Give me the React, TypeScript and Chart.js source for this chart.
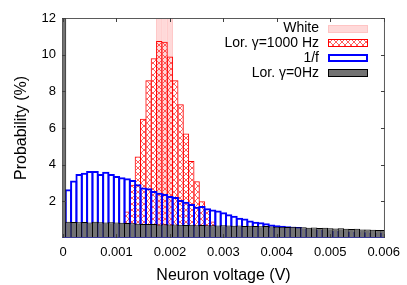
import React, { useEffect, useRef } from 'react';
import { Chart, registerables } from 'chart.js';

Chart.register(...registerables);

// ---- data (probability in %, bins of 0.0001 V centred on the bin value) ----
const binWidth = 0.0001;
const binCenters: number[] = Array.from({ length: 61 }, (_, i) => Number((i * binWidth).toFixed(4)));

const whiteBins = [0.0018, 0.0019, 0.002];
const whiteProb = [28, 40, 32];

const redBins = [0.0011, 0.0012, 0.0013, 0.0014, 0.0015, 0.0016, 0.0017, 0.0018, 0.0019, 0.002,
  0.0021, 0.0022, 0.0023, 0.0024, 0.0025, 0.0026, 0.0027, 0.0028, 0.0029];
const redProb = [0.4, 1.45, 2.9, 4.45, 6.5, 8.6, 9.8, 10.75, 10.7, 9.9,
  8.6, 7.3, 5.7, 4.2, 3.1, 2.0, 1.6, 0.9, 0.4];

// bins 1..60
const blueProb = [2.66, 3.13, 3.49, 3.56, 3.65, 3.65, 3.49, 3.62, 3.49, 3.38,
  3.31, 3.26, 3.16, 2.93, 2.76, 2.72, 2.56, 2.47, 2.40, 2.29,
  2.24, 2.07, 1.98, 1.85, 1.71, 1.75, 1.62, 1.55, 1.50, 1.40,
  1.29, 1.22, 1.11, 1.07, 0.95, 0.89, 0.86, 0.80, 0.74, 0.70,
  0.67, 0.64, 0.62, 0.60, 0.50, 0.48, 0.46, 0.44, 0.42, 0.40,
  0.38, 0.37, 0.35, 0.34, 0.33, 0.32, 0.30, 0.29, 0.28, 0.27];

// bins 0..60
const grayProb = [14,
  0.88, 0.87, 0.86, 0.87, 0.85, 0.88, 0.86, 0.85, 0.86, 0.84,
  0.83, 0.82, 0.80, 0.78, 0.77, 0.76, 0.76, 0.74, 0.75, 0.73,
  0.74, 0.72, 0.71, 0.72, 0.70, 0.71, 0.69, 0.70, 0.68, 0.69,
  0.68, 0.67, 0.68, 0.66, 0.67, 0.65, 0.64, 0.65, 0.63, 0.62,
  0.62, 0.60, 0.61, 0.59, 0.58, 0.56, 0.57, 0.55, 0.56, 0.53,
  0.52, 0.53, 0.50, 0.49, 0.50, 0.47, 0.46, 0.45, 0.44, 0.43];

const xTicks = [0, 0.001, 0.002, 0.003, 0.004, 0.005, 0.006];
const yTicks = [2, 4, 6, 8, 10, 12];

const legendLabels = ['White', 'Lor. \u03b3=1000 Hz', '1/f', 'Lor. \u03b3=0Hz'];

const FONT = "'Liberation Sans', Arial, Helvetica, sans-serif";

function makeHatch(ctx: CanvasRenderingContext2D): CanvasPattern | string {
  const c = document.createElement('canvas');
  c.width = 6;
  c.height = 6;
  const g = c.getContext('2d');
  if (!g) return 'rgba(255,0,0,0.3)';
  g.strokeStyle = 'rgba(255,40,40,0.75)';
  g.lineWidth = 1;
  g.beginPath();
  g.moveTo(0, 0); g.lineTo(6, 6);
  g.moveTo(6, 0); g.lineTo(0, 6);
  g.stroke();
  return ctx.createPattern(c, 'repeat') || 'rgba(255,0,0,0.3)';
}

export default function App() {
  const ref = useRef<HTMLCanvasElement>(null);

  useEffect(() => {
    document.body.style.margin = '0';
    const canvas = ref.current;
    if (!canvas) return;
    const ctx = canvas.getContext('2d')!;
    const hatch = makeHatch(ctx);

    const pxPerBin = 5.327;
    const pct = (b: number) => (pxPerBin + b) / pxPerBin;

    const framePlugin = {
      id: 'frame',
      afterDatasetsDraw(chart: any) {
        const c = chart.ctx as CanvasRenderingContext2D;
        const { left, right, top, bottom } = chart.chartArea;
        const xs = chart.scales.x;
        const ys = chart.scales.y;
        c.save();
        // border
        c.lineWidth = 1;
        c.strokeStyle = '#5a5a5a';
        c.beginPath();
        c.moveTo(left + 0.5, bottom - 0.5);
        c.lineTo(left + 0.5, top + 0.5);
        c.lineTo(right - 0.5, top + 0.5);
        c.lineTo(right - 0.5, bottom - 0.5);
        c.stroke();
        c.strokeStyle = '#3a3a9a';
        c.beginPath();
        c.moveTo(left, bottom - 0.5);
        c.lineTo(right, bottom - 0.5);
        c.stroke();
        // ticks (inward)
        c.strokeStyle = '#404040';
        const tl = 4;
        c.beginPath();
        for (const v of xTicks) {
          const px = Math.round(xs.getPixelForValue(v)) + 0.5;
          c.moveTo(px, top); c.lineTo(px, top + tl);
          c.moveTo(px, bottom); c.lineTo(px, bottom - tl);
        }
        for (const v of yTicks) {
          const py = Math.round(ys.getPixelForValue(v)) + 0.5;
          c.moveTo(left, py); c.lineTo(left + tl, py);
          c.moveTo(right, py); c.lineTo(right - tl, py);
        }
        c.stroke();

        // legend
        const textX = 319;
        const boxL = 328;
        const boxW = 40;
        const boxH = 8;
        const rows = [28.5, 43.3, 58, 72.8];
        c.font = `14px ${FONT}`;
        c.textAlign = 'right';
        c.textBaseline = 'middle';
        legendLabels.forEach((t, i) => {
          c.fillStyle = '#000';
          c.fillText(t, textX, rows[i]);
        });
        const bt = (i: number) => Math.round(rows[i] - boxH / 2);
        // White
        c.fillStyle = '#ffd9d9';
        c.fillRect(boxL, bt(0), boxW, boxH);
        c.strokeStyle = '#ffc4c4';
        c.strokeRect(boxL + 0.5, bt(0) + 0.5, boxW - 1, boxH - 1);
        // Lor 1000
        c.fillStyle = hatch as any;
        c.fillRect(boxL, bt(1), boxW, boxH);
        c.strokeStyle = '#ff0000';
        c.strokeRect(boxL + 0.5, bt(1) + 0.5, boxW - 1, boxH - 1);
        // 1/f
        c.fillStyle = '#ffffff';
        c.fillRect(boxL, bt(2), boxW, boxH);
        c.strokeStyle = '#0000ff';
        c.lineWidth = 2;
        c.strokeRect(boxL + 1, bt(2) + 1, boxW - 2, boxH - 2);
        // Lor 0
        c.lineWidth = 1;
        c.fillStyle = '#737373';
        c.fillRect(boxL, bt(3), boxW, boxH);
        c.strokeStyle = '#000000';
        c.strokeRect(boxL + 0.5, bt(3) + 0.5, boxW - 1, boxH - 1);
        c.restore();
      },
    };

    const chart = new Chart(canvas, {
      type: 'bar',
      data: {
        datasets: [
          {
            label: legendLabels[0],
            data: whiteBins.map((x, i) => ({ x, y: whiteProb[i] })),
            backgroundColor: '#ffd9d9',
            borderColor: '#ffc0c0',
            borderWidth: { top: 1, left: 1, right: 1, bottom: 0 },
            barPercentage: pct(1),
            order: 4,
          },
          {
            label: legendLabels[1],
            data: redBins.map((x, i) => ({ x, y: redProb[i] })),
            backgroundColor: hatch as any,
            borderColor: '#ff0000',
            borderWidth: { top: 1, left: 1, right: 1, bottom: 0 },
            barPercentage: pct(1),
            order: 3,
          },
          {
            label: legendLabels[2],
            data: blueProb.map((y, i) => ({ x: binCenters[i + 1], y })),
            backgroundColor: 'rgba(0,0,0,0)',
            borderColor: '#0000ff',
            borderWidth: { top: 2, left: 2, right: 2, bottom: 0 },
            barPercentage: pct(2),
            order: 2,
          },
          {
            label: legendLabels[3],
            data: grayProb.map((y, i) => ({ x: binCenters[i], y })),
            backgroundColor: '#737373',
            borderColor: '#000000',
            borderWidth: { top: 1, left: 1, right: 1, bottom: 0 },
            barPercentage: pct(1),
            order: 1,
          },
        ],
      } as any,
      options: {
        responsive: false,
        animation: false,
        devicePixelRatio: 1,
        events: [],
        layout: { padding: { left: 0, top: 18, right: 22, bottom: 0 } },
        datasets: {
          bar: {
            grouped: false,
            categoryPercentage: 1,
            inflateAmount: 0,
            clip: 0,
          } as any,
        },
        plugins: {
          legend: { display: false },
          tooltip: { enabled: false },
        },
        scales: {
          x: {
            type: 'linear',
            offset: false,
            min: -0.00002,
            max: 0.006025,
            grid: { display: false, drawTicks: false },
            border: { display: false },
            afterBuildTicks: (s: any) => { s.ticks = xTicks.map((v) => ({ value: v })); },
            afterFit: (s: any) => { s.height = 47; },
            ticks: {
              autoSkip: false,
              maxRotation: 0,
              padding: 7,
              color: '#000',
              font: { family: FONT, size: 13 },
              callback: (v: any) => Number(Number(v).toFixed(3)).toString(),
            },
            title: {
              display: true,
              text: 'Neuron voltage (V)',
              color: '#000',
              font: { family: FONT, size: 16, lineHeight: 1.2 },
              padding: { top: 0, bottom: 0 },
            },
          },
          y: {
            type: 'linear',
            min: 0,
            max: 12,
            grid: { display: false, drawTicks: false },
            border: { display: false },
            afterBuildTicks: (s: any) => { s.ticks = yTicks.map((v) => ({ value: v })); },
            afterFit: (s: any) => { s.width = 62; },
            ticks: {
              padding: 6,
              color: '#000',
              font: { family: FONT, size: 13 },
            },
            title: {
              display: true,
              text: 'Probability (%)',
              color: '#000',
              font: { family: FONT, size: 16, lineHeight: 1.2 },
              padding: { top: 12, bottom: 0 },
            },
          },
        },
      } as any,
      plugins: [framePlugin],
    });

    return () => chart.destroy();
  }, []);

  return (
    <div style={{ position: 'relative', width: 407, height: 285 }}>
      <canvas ref={ref} width={407} height={285} style={{ display: 'block', width: 407, height: 285 }} />
    </div>
  );
}
